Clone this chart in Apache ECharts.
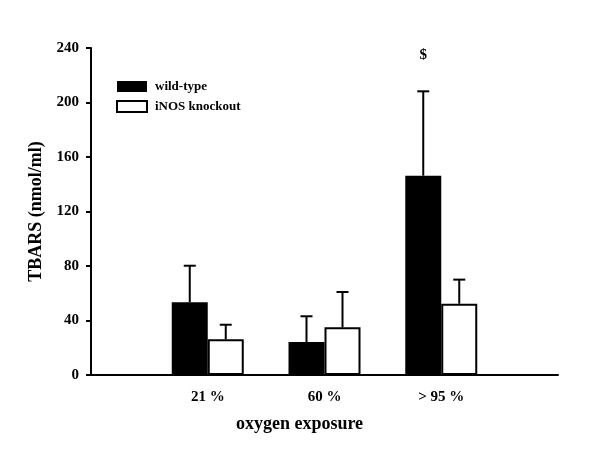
<!DOCTYPE html>
<html>
<head>
<meta charset="utf-8">
<script src="https://cdn.jsdelivr.net/npm/echarts@6/dist/echarts.min.js"></script>
<style>html,body{margin:0;padding:0;background:#fff}#c{width:600px;height:456px}</style>
</head>
<body>
<div id="c"></div>
<script>
var categories = ['', '21 %', '60 %', '> 95 %', ''];
var wildType = ['-', 53.4, 24.2, 146.3, '-'];
var wildTypeErr = ['-', 80.2, 43.1, 208.2, '-'];
var knockout = ['-', 26.2, 35.0, 52.3, '-'];
var knockoutErr = ['-', 36.9, 60.9, 70.0, '-'];
var significance = ['', '', '', '$', ''];
var yTicks = { min: 0, max: 240, interval: 40 };

var FONT = '"Liberation Serif", "Times New Roman", serif';
var BAR_W = 36;

function errSeries(vals, errs, offset, marks) {
  var data = [];
  for (var i = 0; i < vals.length; i++) {
    if (vals[i] !== '-') data.push([i, vals[i], errs[i], marks ? marks[i] : '']);
  }
  return {
    type: 'custom',
    silent: true,
    z: 5,
    data: data,
    renderItem: function (params, api) {
      var idx = api.value(0);
      var base = api.coord([idx, api.value(1)]);
      var top = api.coord([idx, api.value(2)]);
      var x = base[0] + offset;
      var children = [
        { type: 'line', shape: { x1: x, y1: base[1], x2: x, y2: top[1] }, style: { stroke: '#000', lineWidth: 2 } },
        { type: 'line', shape: { x1: x - 6, y1: top[1], x2: x + 6, y2: top[1] }, style: { stroke: '#000', lineWidth: 2 } }
      ];
      var mark = api.value(3);
      if (mark) {
        var p = api.coord([idx, 235]);
        children.push({ type: 'text', style: { x: x, y: p[1], text: mark, font: 'bold 15px ' + FONT, fill: '#000', align: 'center', verticalAlign: 'middle' } });
      }
      return { type: 'group', children: children };
    }
  };
}

var chart = echarts.init(document.getElementById('c'), null, { renderer: 'canvas' });
chart.setOption({
  animation: false,
  backgroundColor: '#fff',
  grid: { left: 91, right: 42, top: 48, bottom: 81, containLabel: false },
  legend: {
    left: 116, top: 80, padding: 0, orient: 'vertical', itemGap: 7,
    itemWidth: 30, itemHeight: 11, icon: 'rect',
    textStyle: { fontFamily: FONT, fontWeight: 'bold', fontSize: 13, color: '#000', padding: [0, 0, 0, 3] },
    data: ['wild-type', 'iNOS knockout']
  },
  xAxis: {
    type: 'category', data: categories, boundaryGap: false,
    axisLine: { lineStyle: { color: '#000', width: 2 } },
    axisTick: { show: false },
    axisLabel: { color: '#000', fontFamily: FONT, fontWeight: 'bold', fontSize: 15, margin: 15 },
    name: 'oxygen exposure', nameLocation: 'middle', nameGap: 40,
    nameTextStyle: { color: '#000', fontFamily: FONT, fontWeight: 'bold', fontSize: 18, padding: [0, 50, 0, 0] }
  },
  yAxis: {
    type: 'value', min: yTicks.min, max: yTicks.max, interval: yTicks.interval,
    splitLine: { show: false },
    axisLine: { show: true, lineStyle: { color: '#000', width: 2 } },
    axisTick: { show: true, length: 5, lineStyle: { color: '#000', width: 2 } },
    axisLabel: { color: '#000', fontFamily: FONT, fontWeight: 'bold', fontSize: 15, margin: 12 },
    name: 'TBARS (nmol/ml)', nameLocation: 'middle', nameGap: 46, nameRotate: 90,
    nameTextStyle: { color: '#000', fontFamily: FONT, fontWeight: 'bold', fontSize: 18 }
  },
  series: [
    { name: 'wild-type', type: 'bar', data: wildType, barWidth: BAR_W, barGap: '0%',
      itemStyle: { color: '#000' } },
    { name: 'iNOS knockout', type: 'bar', data: knockout, barWidth: BAR_W,
      itemStyle: { color: '#fff', borderColor: '#000', borderWidth: 2 } },
    errSeries(wildType, wildTypeErr, -BAR_W / 2, significance),
    errSeries(knockout, knockoutErr, BAR_W / 2, null)
  ]
});
</script>
</body>
</html>
